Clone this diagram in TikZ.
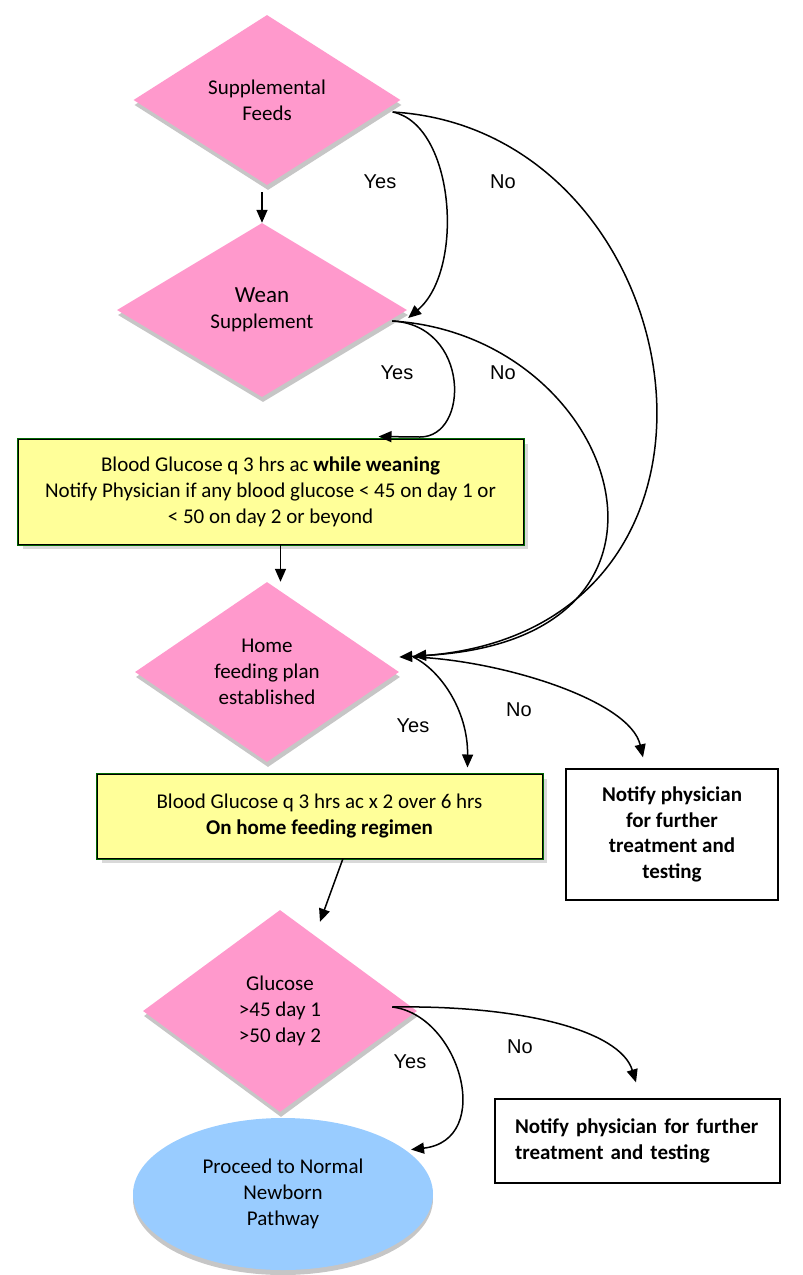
\documentclass[tikz,border=0pt]{standalone}
\usepackage{fontspec}
\setmainfont{Carlito}
\newfontfamily\arialfont{Liberation Sans}
\usetikzlibrary{shapes.geometric,arrows.meta,shadows}
\definecolor{pinkfill}{HTML}{FF99CC}
\definecolor{yellowfill}{HTML}{FFFF99}
\definecolor{bluefill}{HTML}{99CCFF}
\definecolor{shadowgray}{HTML}{C6C6C6}
\definecolor{boxgreen}{HTML}{006600}

\begin{document}
\begin{tikzpicture}[x=1pt,y=-1pt,
  font=\fontsize{21}{26}\selectfont,
  decision/.style={diamond,fill=pinkfill,inner sep=0pt,align=center,
    general shadow={fill=shadowgray,shadow xshift=1pt,shadow yshift=-5pt}},
  process/.style={rectangle,fill=yellowfill,draw=black,line width=1pt,inner sep=0pt,align=center,
    drop shadow={shadow xshift=5pt,shadow yshift=-5pt,opacity=0.3},
    preaction={draw=boxgreen,line width=3pt}},
  notice/.style={rectangle,draw=black,line width=1.3pt,inner sep=0pt,
    font=\fontsize{21}{25.5}\selectfont\bfseries},
  terminal/.style={ellipse,fill=bluefill,inner sep=0pt,align=center,
    general shadow={fill=shadowgray,shadow yshift=-5pt}},
  answer/.style={font=\arialfont\fontsize{20}{24}\selectfont},
  flow/.style={line width=1.5pt,-{Triangle[length=13pt,width=11pt]}}]

\useasboundingbox (0,0) rectangle (803,1275);

\node[decision,minimum width=267pt,minimum height=170pt] (sf) at (267,100) {Supplemental\\Feeds};
\node[decision,minimum width=290pt,minimum height=174pt] (wean) at (262,310) {{\fontsize{23}{27}\selectfont Wean}\\Supplement};
\node[process,minimum width=505pt,minimum height=105pt] (box1) at (270.5,491.5) {Blood Glucose q 3 hrs ac \textbf{while weaning}\\Notify Physician if any blood glucose < 45 on day 1 or\\< 50 on day 2 or beyond};
\node[decision,minimum width=264pt,minimum height=180pt] (home) at (267,672) {Home\\feeding plan\\established};
\node[process,minimum width=445pt,minimum height=84pt] (box2) at (319.5,816) {Blood Glucose q 3 hrs ac x 2 over 6 hrs\\\textbf{On home feeding regimen}};
\node[notice,align=center,minimum width=212pt,minimum height=131pt] (notifyA) at (672,834.5) {Notify physician\\for further\\treatment and\\testing};
\node[decision,minimum width=274pt,minimum height=202pt] (gluc) at (280,1011) {Glucose\\>45 day 1\\>50 day 2};
\node[terminal,minimum width=300pt,minimum height=152pt] (pathway) at (283,1194) {Proceed to Normal\\Newborn\\Pathway};
\node[notice,align=left,text width=245pt,inner xsep=20pt,minimum height=84pt] (notifyB) at (637.5,1141) {Notify physician for further\\treatment and testing};

\node[answer] (yesA) at (380,182) {Yes};
\node[answer] (noA) at (503,182) {No};
\node[answer] (yesB) at (397,373) {Yes};
\node[answer] (noB) at (503,373) {No};
\node[answer] (yesC) at (413,726) {Yes};
\node[answer] (noC) at (519,710) {No};
\node[answer] (yesD) at (410,1062) {Yes};
\node[answer] (noD) at (520,1047) {No};

\coordinate (box1Down) at ([xshift=10pt]box1.south);

\draw[flow,shorten <=7pt] (sf.south -| wean.north) -- (wean.north);
\draw[flow] ([shift={(-8,12)}]sf.east) .. controls (455,125) and (465,270) .. ([shift={(1,8)}]wean.east);
\draw[flow] ([shift={(-8,12)}]sf.east) .. controls (700,130) and (780,640) .. ([shift={(0,-15)}]home.east);
\draw[flow] ([shift={(-15,11)}]wean.east) .. controls (470,325) and (470,437) .. (420,437) -- ([shift={(108,-2)}]box1.north);
\draw[flow] ([shift={(-15,11)}]wean.east) .. controls (620,335) and (720,640) .. ([shift={(14,-16)}]home.east);
\draw[flow] (box1Down) -- (box1Down |- home.north);
\draw[flow] ([shift={(14,-15)}]home.east) .. controls (440,670) and (468,710) .. ([shift={(148,-6)}]box2.north);
\draw[flow] ([shift={(14,-15)}]home.east) .. controls (500,660) and (630,700) .. ([shift={(-29,-11)}]notifyA.north);
\draw[flow] ([shift={(23.5,0)}]box2.south) -- ([shift={(40,12)}]gluc.north);
\draw[flow] ([shift={(-25,-4)}]gluc.east) .. controls (460,1015) and (495,1140) .. ([shift={(6,0)}]pathway.20);
\draw[flow] ([shift={(-25,-4)}]gluc.east) .. controls (520,1005) and (620,1030) .. ([shift={(-1.5,-16)}]notifyB.north);

\end{tikzpicture}
\end{document}
